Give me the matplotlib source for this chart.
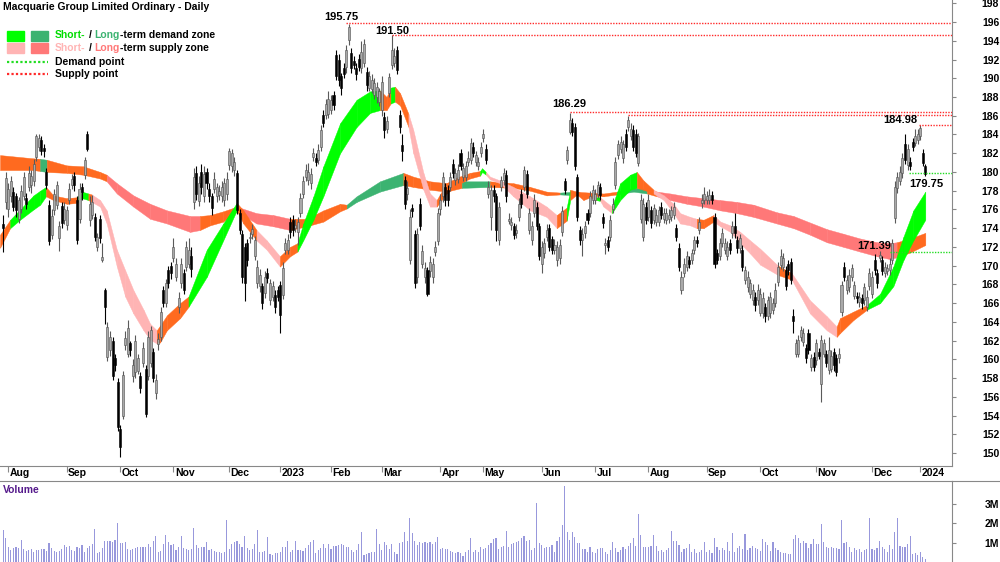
import numpy as np
import pandas as pd
import matplotlib
matplotlib.use('Agg')
import matplotlib.pyplot as plt
from matplotlib.lines import Line2D
from matplotlib.patches import Rectangle

plt.rcParams['font.family'] = ['Liberation Sans', 'DejaVu Sans']

# ASX trading calendar
holidays = ['2022-09-22', '2022-12-26', '2022-12-27', '2023-01-02', '2023-01-26',
            '2023-04-07', '2023-04-10', '2023-04-25', '2023-06-12', '2023-12-25',
            '2023-12-26', '2024-01-01']
dates = pd.bdate_range('2022-07-28', '2024-01-04')
dates = dates[~dates.isin(pd.to_datetime(holidays))]

# daily prices
opens = [
    174.4, 176.8, 176.0, 177.4, 177.9, 177.4, 175.0, 176.0, 177.4, 177.2,
    178.4, 178.6, 179.0, 181.6, 182.7, 183.4, 182.6, 180.0, 176.5, 173.3,
    175.9, 176.5, 172.9, 176.4, 174.9, 174.3, 177.0, 178.6, 179.6, 177.0,
    175.0, 178.4, 179.7, 184.0, 174.9, 175.4, 175.2, 172.0, 175.0, 170.6,
    167.4, 160.3, 161.0, 162.0, 160.1, 157.6, 152.6, 154.0, 161.5, 160.6,
    161.7, 158.2, 158.6, 158.8, 158.2, 159.6, 159.0, 158.2, 159.6, 160.8,
    156.4, 161.6, 162.4, 167.4, 166.0, 169.5, 170.0, 170.8, 168.8, 165.6,
    168.1, 169.2, 169.9, 170.2, 171.0, 176.8, 179.9, 176.9, 180.0, 177.4,
    180.0, 178.2, 177.4, 178.2, 177.4, 177.5, 177.4, 177.0, 177.6, 180.7,
    180.6, 180.2, 179.9, 175.6, 173.4, 172.0, 172.4, 172.9, 173.4, 171.0,
    168.1, 167.8, 167.8, 167.1, 169.2, 166.3, 166.7, 166.9, 167.4, 167.9,
    166.9, 171.7, 171.7, 174.7, 174.9, 174.0, 173.6, 175.6, 177.7, 179.5,
    179.1, 178.8, 181.6, 181.5, 181.3, 182.7, 186.1, 186.1, 186.2, 186.6,
    188.2, 192.5, 192.0, 190.2, 191.1, 191.2, 194.1, 192.7, 191.8, 191.1,
    192.1, 191.1, 191.6, 190.7, 189.0, 188.9, 188.2, 188.0, 187.5, 186.6,
    185.9, 184.6, 188.4, 191.4, 191.6, 193.0, 186.1, 182.9, 179.1, 177.6,
    170.6, 176.1, 173.4, 168.8, 176.6, 170.2, 168.8, 169.5, 169.4, 168.8,
    171.5, 172.6, 176.0, 177.4, 178.4, 178.1, 178.4, 180.9, 179.1, 179.3,
    182.0, 179.5, 179.5, 181.1, 181.3, 182.7, 181.1, 180.6, 182.0, 183.6,
    182.5, 177.7, 175.2, 178.1, 177.4, 172.7, 178.4, 179.1, 179.7, 174.8,
    174.3, 174.2, 173.5, 175.2, 177.7, 178.4, 179.8, 173.8, 172.7, 175.6,
    176.3, 174.2, 170.2, 171.3, 173.1, 174.0, 172.8, 171.7, 170.6, 170.8,
    173.6, 179.0, 181.3, 184.3, 185.2, 184.8, 179.5, 173.8, 172.7, 173.5,
    175.6, 175.6, 177.0, 177.0, 177.7, 178.4, 175.2, 172.2, 172.7, 173.1,
    176.0, 178.6, 181.8, 182.4, 181.5, 184.1, 184.8, 183.8, 184.5, 184.1,
    181.0, 175.0, 173.1, 176.3, 175.2, 175.9, 174.9, 174.7, 174.7, 176.3,
    175.0, 174.9, 175.0, 175.2, 175.4, 174.0, 171.9, 167.4, 169.2, 169.9,
    170.6, 170.6, 171.7, 172.7, 173.8, 176.7, 177.0, 177.0, 177.0, 177.5,
    175.2, 171.3, 171.0, 172.4, 171.7, 171.0, 172.4, 173.5, 174.2, 172.7,
    171.9, 171.7, 168.5, 167.7, 167.0, 166.3, 166.7, 166.3, 165.0, 165.0,
    165.6, 164.6, 164.9, 165.3, 166.0, 168.3, 170.1, 169.9, 169.5, 170.2,
    170.4, 164.6, 160.6, 160.6, 162.4, 161.9, 161.2, 162.8, 159.2, 160.3,
    159.9, 160.8, 157.4, 160.6, 160.6, 158.9, 159.0, 160.8, 160.1, 160.1,
    165.1, 169.9, 167.4, 167.7, 168.8, 166.8, 166.8, 166.1, 166.5, 166.3,
    165.6, 167.8, 167.0, 170.6, 169.2, 170.8, 170.6, 169.2, 169.4, 169.5,
    170.6, 175.1, 178.3, 179.0, 179.9, 183.0, 180.7, 181.1, 183.2, 183.1,
    183.4, 183.8, 182.0, 180.6]
highs = [
    175.4, 180.0, 178.8, 179.6, 178.4, 177.8, 177.3, 178.6, 180.0, 177.8,
    180.6, 180.2, 181.4, 184.0, 184.0, 183.8, 183.0, 180.4, 177.0, 176.0,
    178.2, 179.0, 174.8, 176.8, 176.8, 176.4, 178.8, 179.8, 180.0, 177.4,
    178.8, 178.8, 181.6, 184.4, 177.4, 177.5, 175.6, 173.5, 175.4, 172.4,
    167.6, 164.0, 163.0, 162.4, 160.6, 158.0, 153.0, 158.8, 163.0, 164.2,
    162.0, 160.0, 162.6, 160.6, 158.6, 161.8, 159.4, 163.0, 163.6, 161.2,
    158.4, 162.8, 165.6, 167.8, 168.6, 170.0, 170.4, 173.0, 170.8, 167.2,
    170.8, 169.6, 172.6, 173.0, 172.0, 180.4, 180.6, 179.6, 180.8, 180.6,
    180.4, 178.8, 177.8, 180.0, 178.8, 178.6, 179.0, 179.4, 180.0, 182.6,
    182.4, 181.6, 180.2, 176.0, 173.8, 172.4, 172.8, 173.6, 174.4, 173.2,
    170.6, 169.6, 168.2, 169.4, 169.8, 168.6, 168.4, 167.4, 167.8, 168.4,
    170.4, 173.0, 173.4, 175.2, 175.4, 175.0, 175.2, 177.8, 179.6, 180.8,
    181.0, 180.4, 182.6, 182.0, 183.0, 185.0, 186.6, 187.8, 188.6, 188.2,
    188.6, 193.0, 192.6, 190.6, 191.6, 193.6, 195.75, 193.2, 192.4, 191.6,
    192.6, 194.0, 194.2, 191.2, 190.8, 190.4, 190.0, 189.6, 189.0, 190.2,
    186.4, 186.0, 190.6, 194.6, 193.2, 193.4, 186.6, 184.0, 179.6, 179.0,
    176.0, 176.6, 173.8, 174.0, 177.2, 172.2, 170.4, 169.9, 171.0, 170.8,
    172.6, 176.2, 177.6, 180.0, 178.8, 178.6, 180.0, 181.4, 180.4, 180.8,
    182.4, 181.0, 181.2, 182.2, 183.6, 183.2, 182.2, 181.6, 183.2, 184.6,
    183.0, 179.0, 178.6, 178.6, 177.8, 176.8, 179.6, 180.4, 180.2, 175.6,
    175.2, 174.6, 174.4, 177.2, 178.2, 180.6, 180.2, 176.2, 174.8, 177.6,
    176.8, 174.6, 172.6, 173.0, 174.4, 174.4, 173.2, 172.8, 172.6, 172.8,
    176.4, 179.4, 182.8, 186.29, 185.8, 185.2, 179.8, 174.2, 174.0, 174.8,
    176.0, 178.0, 178.6, 178.2, 179.0, 178.8, 175.6, 173.0, 173.2, 175.4,
    177.2, 181.6, 183.4, 183.8, 183.4, 184.6, 186.0, 185.2, 185.0, 184.6,
    184.2, 177.6, 177.2, 176.8, 177.6, 176.4, 176.6, 176.0, 176.4, 176.8,
    176.2, 176.2, 176.0, 176.4, 176.8, 174.4, 172.4, 169.4, 170.8, 171.6,
    171.0, 171.8, 173.2, 173.2, 175.2, 177.6, 178.4, 178.0, 178.2, 178.0,
    175.6, 171.8, 173.0, 174.0, 173.0, 172.6, 172.8, 174.8, 175.6, 173.2,
    173.4, 172.2, 170.0, 169.4, 168.6, 168.0, 167.2, 168.0, 167.6, 167.2,
    166.0, 166.8, 167.2, 166.6, 168.2, 170.4, 171.8, 171.4, 170.0, 170.6,
    170.8, 165.4, 162.2, 162.6, 163.6, 163.4, 161.6, 163.2, 160.6, 160.8,
    162.2, 161.2, 162.6, 162.2, 161.0, 162.4, 161.0, 161.2, 160.6, 161.2,
    168.4, 170.4, 169.0, 169.6, 170.2, 168.4, 167.2, 167.2, 167.0, 168.2,
    167.4, 169.8, 169.4, 171.2, 169.6, 171.6, 171.0, 170.4, 170.2, 170.8,
    172.8, 179.0, 180.0, 180.6, 182.0, 184.0, 183.0, 181.6, 183.6, 184.6,
    184.6, 184.98, 182.4, 180.9]
lows = [
    171.5, 176.0, 175.2, 176.8, 175.8, 175.2, 174.6, 175.6, 177.0, 176.0,
    178.0, 177.8, 178.5, 181.2, 182.2, 181.8, 181.6, 178.2, 172.2, 172.8,
    175.4, 176.0, 171.6, 174.0, 174.4, 173.8, 176.6, 178.2, 178.0, 172.3,
    174.6, 177.0, 179.2, 182.2, 174.2, 175.0, 172.6, 171.6, 172.4, 170.4,
    163.8, 159.8, 160.4, 157.8, 158.8, 152.4, 149.6, 153.6, 161.0, 160.2,
    160.4, 157.6, 158.0, 158.4, 156.4, 159.2, 153.8, 157.8, 159.2, 157.6,
    155.8, 161.0, 162.0, 165.6, 165.6, 167.6, 168.6, 170.4, 168.4, 165.0,
    167.6, 167.0, 169.4, 169.8, 168.8, 176.0, 177.0, 176.4, 177.6, 176.8,
    178.2, 176.8, 175.4, 177.8, 176.8, 177.0, 176.8, 176.4, 177.0, 180.2,
    180.0, 179.6, 175.5, 173.4, 168.2, 166.2, 170.0, 172.4, 172.8, 170.6,
    167.6, 167.2, 165.4, 166.6, 168.2, 165.8, 166.2, 165.0, 166.2, 162.8,
    166.4, 171.2, 171.2, 173.0, 173.2, 173.6, 172.2, 175.2, 177.2, 179.0,
    178.6, 178.2, 181.2, 180.6, 180.8, 182.2, 184.8, 185.6, 185.8, 186.2,
    186.6, 189.8, 189.2, 188.2, 190.0, 190.6, 193.6, 190.6, 191.0, 189.8,
    190.8, 190.6, 191.2, 188.6, 188.6, 188.4, 187.8, 187.4, 187.0, 186.0,
    183.6, 184.2, 188.0, 191.0, 191.2, 190.4, 184.2, 181.2, 176.0, 177.0,
    170.2, 175.2, 167.6, 168.2, 173.8, 169.8, 168.2, 166.8, 168.8, 168.2,
    171.0, 172.2, 175.4, 176.8, 176.4, 176.4, 178.0, 179.4, 178.6, 178.8,
    180.2, 179.0, 179.0, 180.6, 180.8, 181.6, 180.6, 180.2, 181.6, 183.2,
    180.8, 177.2, 173.8, 176.8, 172.6, 172.2, 178.0, 178.6, 176.8, 174.4,
    173.8, 172.8, 173.0, 174.8, 176.2, 178.0, 177.2, 173.4, 172.2, 175.2,
    173.8, 170.6, 169.2, 170.8, 172.6, 171.6, 171.2, 171.2, 170.0, 170.2,
    173.2, 177.6, 180.8, 184.0, 183.8, 180.2, 174.8, 172.2, 171.0, 173.0,
    174.4, 175.2, 176.6, 176.6, 177.2, 177.0, 174.0, 171.2, 171.6, 172.6,
    175.6, 178.2, 181.4, 182.0, 181.0, 182.2, 184.4, 183.4, 182.2, 181.6,
    180.6, 174.6, 172.6, 174.4, 174.8, 174.0, 174.4, 174.2, 174.2, 175.0,
    174.6, 174.4, 174.6, 174.8, 175.0, 172.6, 169.4, 167.0, 168.8, 169.4,
    169.8, 170.2, 171.2, 172.0, 173.4, 176.2, 176.6, 176.6, 176.6, 176.6,
    169.8, 170.2, 170.6, 172.0, 171.2, 170.6, 171.2, 173.0, 173.0, 171.4,
    171.4, 169.4, 168.0, 167.2, 166.6, 165.8, 165.2, 165.8, 164.6, 164.4,
    164.0, 164.2, 164.4, 164.8, 165.6, 167.8, 169.6, 169.4, 167.4, 169.0,
    168.0, 162.8, 160.2, 160.2, 162.0, 161.4, 159.6, 160.6, 158.8, 158.8,
    159.4, 160.0, 155.5, 160.2, 159.2, 158.4, 158.6, 158.8, 158.2, 159.6,
    164.6, 168.4, 167.0, 167.2, 168.4, 166.4, 166.0, 165.6, 165.4, 165.8,
    165.2, 167.4, 166.6, 169.0, 167.6, 170.4, 169.0, 168.8, 169.0, 169.0,
    170.2, 174.6, 177.8, 178.6, 179.4, 180.8, 180.2, 180.2, 182.2, 182.8,
    183.0, 183.4, 180.6, 179.6]
closes = [
    174.0, 179.4, 178.2, 179.0, 176.3, 175.9, 177.0, 178.0, 179.5, 176.6,
    179.9, 179.6, 180.9, 183.8, 183.6, 182.2, 182.2, 178.6, 172.6, 175.3,
    177.7, 178.6, 174.2, 174.6, 176.0, 175.9, 178.2, 179.3, 178.6, 172.7,
    178.2, 177.9, 181.3, 182.5, 176.6, 176.8, 173.1, 173.1, 172.9, 170.9,
    165.6, 163.5, 162.4, 158.2, 159.4, 152.8, 150.7, 158.3, 162.3, 163.3,
    161.0, 159.4, 162.0, 160.1, 156.9, 161.2, 154.2, 162.4, 163.1, 158.0,
    157.8, 162.2, 165.1, 166.0, 168.1, 168.1, 169.2, 172.0, 170.2, 166.5,
    170.2, 167.4, 172.0, 171.7, 169.6, 179.5, 177.7, 178.8, 178.4, 179.8,
    178.8, 177.4, 176.1, 179.3, 178.4, 178.0, 178.4, 178.8, 179.2, 182.2,
    182.0, 181.1, 175.9, 173.8, 168.8, 168.1, 170.6, 173.1, 173.9, 172.7,
    169.9, 169.0, 166.0, 168.8, 168.7, 168.1, 167.8, 165.6, 166.7, 164.7,
    169.7, 172.4, 172.7, 173.6, 173.8, 174.3, 174.7, 177.2, 179.0, 180.2,
    180.0, 179.8, 182.0, 181.1, 182.3, 184.5, 185.2, 187.3, 187.8, 187.7,
    187.1, 190.2, 189.8, 189.0, 190.5, 193.0, 195.5, 191.1, 191.4, 190.4,
    191.2, 192.8, 193.7, 189.3, 190.2, 189.8, 189.5, 189.1, 188.6, 189.6,
    184.5, 185.4, 190.1, 193.0, 192.4, 190.9, 184.8, 182.2, 176.6, 178.3,
    175.2, 175.8, 168.1, 173.4, 174.2, 171.6, 169.7, 167.0, 170.4, 170.2,
    172.0, 175.6, 177.0, 179.5, 177.0, 177.0, 179.5, 179.9, 179.9, 180.2,
    180.6, 180.4, 180.6, 181.5, 183.1, 182.0, 181.8, 181.1, 182.7, 184.0,
    181.3, 178.4, 178.1, 177.4, 173.8, 176.3, 179.1, 179.9, 177.4, 175.0,
    174.7, 173.3, 173.8, 176.6, 176.6, 180.2, 177.7, 175.6, 174.2, 177.0,
    174.2, 171.0, 172.0, 172.4, 173.8, 172.0, 171.7, 172.2, 172.0, 172.2,
    175.8, 178.1, 182.3, 185.5, 184.3, 180.6, 175.2, 172.7, 173.4, 174.2,
    174.9, 177.4, 178.1, 177.7, 178.6, 177.5, 174.5, 172.4, 172.0, 174.9,
    176.6, 181.1, 183.0, 183.2, 183.0, 182.7, 185.5, 184.6, 182.7, 182.0,
    183.8, 177.0, 176.6, 174.9, 177.0, 174.5, 176.1, 175.4, 175.9, 175.4,
    175.6, 175.6, 175.4, 175.9, 176.3, 173.1, 169.9, 168.8, 170.2, 171.0,
    170.2, 171.3, 172.7, 172.4, 174.7, 177.0, 177.7, 177.4, 177.5, 177.0,
    170.2, 170.6, 172.4, 173.5, 172.4, 172.0, 171.7, 174.2, 173.5, 171.9,
    172.9, 169.9, 169.5, 168.8, 168.1, 167.4, 165.8, 167.4, 167.0, 166.6,
    164.6, 166.3, 166.7, 166.0, 167.4, 169.9, 171.0, 170.8, 167.8, 169.5,
    168.5, 164.1, 161.7, 162.1, 163.1, 162.8, 160.1, 161.0, 160.1, 159.2,
    161.7, 160.4, 162.1, 161.7, 159.6, 161.0, 160.4, 159.4, 158.7, 160.6,
    167.9, 168.8, 168.5, 169.0, 169.7, 167.9, 166.5, 166.7, 166.0, 167.7,
    166.7, 169.2, 168.8, 169.5, 168.1, 171.1, 169.4, 169.9, 169.7, 170.2,
    172.4, 178.4, 179.5, 180.0, 181.5, 181.3, 182.5, 180.6, 182.7, 183.8,
    184.1, 184.7, 181.0, 179.75]
volume_m = [
    1.66, 1.26, 0.79, 0.62, 0.71, 0.79, 0.74, 1.14, 0.66, 0.55,
    0.62, 0.67, 0.53, 0.64, 0.62, 0.66, 0.66, 0.57, 1.00, 0.71,
    0.55, 0.53, 0.57, 0.66, 0.88, 0.79, 0.83, 0.62, 0.57, 0.79,
    0.72, 0.88, 0.53, 0.74, 0.84, 0.91, 1.71, 0.48, 0.53, 0.74,
    1.10, 1.09, 1.09, 1.02, 1.14, 2.00, 0.97, 1.00, 1.02, 0.67,
    0.62, 0.66, 0.74, 0.79, 0.76, 0.78, 0.79, 0.91, 0.79, 1.09,
    1.34, 0.50, 0.55, 0.91, 1.40, 1.02, 0.88, 0.91, 0.62, 0.79,
    1.34, 0.74, 0.67, 0.64, 0.66, 1.78, 0.88, 0.71, 0.76, 0.79,
    1.05, 0.62, 0.67, 0.55, 0.52, 0.50, 0.48, 0.53, 2.17, 0.67,
    0.91, 1.02, 1.09, 0.91, 0.79, 1.36, 0.71, 0.62, 0.66, 0.91,
    1.64, 0.50, 0.53, 0.55, 1.29, 0.40, 0.36, 0.45, 0.48, 0.50,
    0.76, 0.79, 1.09, 0.53, 0.62, 1.09, 0.62, 0.60, 0.55, 0.74,
    0.88, 1.02, 1.14, 0.48, 0.62, 0.74, 0.91, 0.74, 0.95, 0.67,
    0.84, 0.84, 0.90, 0.91, 0.88, 0.79, 0.79, 0.62, 0.50, 0.62,
    0.91, 1.53, 0.36, 0.40, 0.45, 0.50, 0.50, 1.71, 0.91, 0.62,
    1.02, 0.88, 0.67, 0.91, 0.50, 0.40, 0.97, 1.05, 1.53, 1.09,
    2.26, 1.48, 1.09, 0.88, 1.02, 0.97, 1.02, 0.97, 1.05, 0.91,
    1.02, 1.29, 0.67, 0.74, 0.67, 0.66, 0.57, 0.53, 0.45, 0.53,
    0.45, 0.33, 0.53, 0.64, 1.22, 0.50, 0.62, 0.53, 0.78, 0.66,
    0.74, 0.88, 1.00, 1.19, 1.22,
    0.67, 0.79, 0.84, 1.60, 0.78, 0.91, 0.97, 1.02, 1.09, 1.22,
    1.34, 1.09, 1.12, 0.62, 0.74, 3.03, 0.97, 0.88, 0.71, 0.79,
    0.79, 0.88, 0.53, 1.09, 1.31, 1.91, 3.93, 1.57, 1.14, 1.57,
    1.31, 0.97, 0.97, 0.67, 0.67, 0.53, 0.78, 0.50, 0.45, 0.67,
    0.71, 0.71, 0.53, 0.40, 0.62, 1.02, 0.71, 0.53, 0.60, 0.79,
    0.66, 0.84, 1.00, 1.22, 0.84, 2.48, 1.40, 0.78, 0.79, 0.78,
    0.84, 1.40, 0.84, 0.57, 0.62, 0.53, 0.62, 0.71, 1.59, 1.09,
    1.09, 0.88, 0.53, 0.67, 0.71, 0.91, 0.53, 0.67, 0.45, 0.53,
    0.64, 1.02, 0.50, 0.62, 0.45, 1.22, 0.79, 0.62, 0.71, 0.62,
    1.02, 0.57, 1.52, 0.53, 0.71, 0.84, 0.67, 1.45, 0.62, 0.71,
    0.84, 0.74, 0.67, 0.57, 1.19, 1.02, 0.88, 0.57, 1.02, 0.74,
    0.62, 0.50, 0.48, 0.45, 0.41, 0.43, 1.19, 1.40, 1.22, 0.97,
    1.09, 0.97, 0.74, 0.91, 1.19, 0.91, 0.91, 1.97, 1.02, 0.79,
    0.74, 0.76, 0.71, 0.74, 0.66, 2.19, 0.97, 1.02, 0.79, 0.53,
    0.71, 0.62, 0.66, 0.50, 0.62, 0.67, 2.26, 0.66, 0.62, 0.71,
    1.09, 0.79, 0.66, 0.53, 0.88, 0.66, 1.57, 2.29, 0.84,
    0.79, 0.79, 0.91, 1.34, 0.40, 0.45, 0.34, 0.50, 0.26, 0.16]

# zone colours
SG, LG, SP, LP, OR = '#00ff00', '#3cb371', '#ffb4b4', '#ff7878', '#ff6a1f'

# short-term zone (bar index, lower edge, upper edge, colour of following segment)
short_idx = [-1.3, 2.7, 6.6, 11.9, 14.5, 16.8, 19.7, 25, 29, 31, 33.5, 34.8, 38.1, 40.7,
             44.7, 48, 51.2, 55.2, 57.8, 60.4, 61.7, 64.4, 69.6, 72.9, 80.1, 86.6, 91.9,
             94.5, 99.7, 103.7, 108.9, 112.9, 115.8, 118.1, 122.1, 126, 132.6, 139.1,
             144.4, 148.3, 150.9, 152.5, 154.2, 156.2, 159.5, 161.4, 165.4, 168, 170.6,
             174.5, 178.5, 183.7, 187.7, 188.5, 190, 191.6, 195.5, 200.8, 207.4, 213.9,
             217.9, 221.8, 223.2, 225.8, 228.4, 231, 233.5, 235, 236.3, 239.6, 242.9,
             246.8, 249.4, 252, 256, 260, 263.9, 266.5, 270.4, 273, 275.7, 279.6, 282.3,
             286.2, 290.1, 294, 298, 305, 310.4, 317.6, 324.2, 328.1, 329.4, 334.7, 340,
             345.2, 350.4, 354.4, 358.3, 363]
short_lo = [171.9, 174.0, 174.9, 176.0, 176.5, 177.4, 177.0, 176.6, 176.7, 177.2, 177.0,
            176.8, 176.3, 174.5, 169.9, 166.7, 164.9, 163.1, 162.1, 161.7, 161.8, 163.1,
            164.4, 165.6, 168.8, 172.7, 175.9, 174.5, 172.7, 171.7, 169.9, 171.0, 171.5,
            172.7, 174.9, 177.4, 182.0, 184.8, 186.3, 186.6, 186.6, 187.3, 187.5, 187.1,
            184.8, 182.0, 178.1, 176.3, 176.3, 177.7, 178.6, 179.3, 179.6, 180.0, 179.7,
            179.2, 178.8, 177.4, 175.9, 175.2, 174.0, 174.8, 177.0, 177.6, 177.0, 177.3,
            177.0, 176.9, 176.3, 175.6, 177.0, 178.1, 178.3, 178.1, 177.7, 177.0, 175.6,
            174.5, 174.3, 174.0, 174.0, 174.7, 174.2, 173.6, 172.4, 171.3, 170.1, 169.0,
            168.5, 164.9, 163.1, 162.4, 162.8, 164.2, 165.3, 166.0, 167.8, 170.6, 172.7,
            174.9]
short_hi = [173.3, 174.9, 176.0, 177.5, 178.0, 178.4, 177.5, 177.2, 177.3, 177.9, 177.7,
            177.6, 177.0, 175.9, 171.7, 169.5, 167.4, 165.3, 163.8, 163.1, 163.6, 164.7,
            166.0, 166.7, 171.7, 174.5, 176.7, 175.9, 173.8, 172.7, 171.0, 172.0, 172.4,
            174.5, 177.4, 180.6, 185.2, 187.7, 188.6, 188.7, 188.0, 189.0, 189.1, 188.4,
            186.2, 184.5, 179.9, 177.7, 177.0, 178.8, 179.4, 179.9, 180.1, 180.4, 180.0,
            179.5, 179.1, 178.4, 177.4, 176.3, 175.4, 176.2, 178.1, 177.9, 177.7, 177.6,
            177.3, 177.3, 177.0, 176.3, 178.8, 179.7, 180.0, 179.1, 178.1, 177.5, 176.6,
            175.6, 175.2, 175.0, 174.9, 175.4, 174.7, 174.3, 173.6, 172.7, 171.8, 170.0,
            169.2, 166.3, 164.6, 163.5, 164.4, 165.1, 165.8, 167.0, 169.9, 173.1, 175.9,
            177.9]
short_col = [OR, SG, SG, SG, SG, OR, OR, OR, SG, SG, OR, SP, SP, SP, SP, SP, SP, SP, SP,
             OR, OR, OR, OR, SG, SG, SG, OR, OR, SP, SP, OR, OR, SG, SG, SG, SG, SG, SG,
             SG, OR, OR, SG, OR, OR, SP, SP, SP, SP, OR, OR, OR, OR, SG, SG, SP, SP, SP,
             SP, SP, SP, OR, SG, OR, OR, OR, OR, SG, SP, SP, SG, SG, SG, OR, OR, SP, SP,
             SP, SP, SP, OR, OR, SP, SP, SP, SP, SP, SP, OR, SP, SP, SP, OR, OR, OR, SG,
             SG, SG, SG, SG, SG]

# long-term zone
long_idx = [-1.3, 11.9, 14.5, 17.1, 25, 31.5, 38.1, 40.7, 44.7, 51.2, 57.8, 64.4, 73.5,
            77.4, 81.4, 86.6, 91.9, 99.7, 106.3, 112.9, 119.4, 126, 132.6, 135.2, 139.1,
            148.3, 157.5, 161.4, 168, 174.5, 180.5, 191.6, 200.8, 207.4, 213.9, 219.2,
            225, 236.3, 241.6, 248.1, 253.4, 257.3, 262.6, 269.1, 275.7, 282.3, 288.8,
            295.4, 304.5, 311.1, 317.6, 324.2, 330.8, 337.3, 344, 349.1, 351.8, 357, 363]
long_lo = [180.2, 180.2, 180.1, 180.0, 179.9, 179.7, 179.3, 179.0, 177.7, 176.3, 175.0,
           174.5, 173.6, 173.8, 174.3, 174.7, 175.8, 174.5, 174.2, 173.8, 174.2, 174.7,
           175.8, 176.1, 176.8, 177.9, 178.6, 178.4, 178.1, 177.9, 178.3, 178.4, 178.3,
           178.0, 177.5, 177.6, 177.5, 177.4, 177.6, 177.9, 177.7, 177.4, 177.0, 176.6,
           176.3, 175.9, 175.6, 175.2, 174.5, 174.0, 173.3, 172.5, 172.0, 171.5, 171.0,
           170.7, 170.9, 171.4, 172.2]
long_hi = [181.8, 181.45, 181.4, 181.3, 180.7, 180.6, 180.0, 179.7, 178.8, 177.5, 176.6,
           175.9, 175.3, 175.3, 175.4, 175.8, 176.3, 175.6, 175.4, 175.0, 175.0, 175.9,
           176.6, 176.5, 177.4, 179.0, 179.9, 179.5, 179.0, 178.8, 179.0, 179.0, 178.8,
           178.4, 177.9, 177.8, 177.9, 177.7, 177.9, 178.3, 178.2, 177.9, 177.7, 177.4,
           177.2, 177.0, 176.8, 176.5, 175.7, 175.3, 174.6, 173.9, 173.4, 172.9, 172.5,
           172.4, 172.5, 172.9, 173.5]
long_col = [OR, OR, LG, OR, OR, OR, OR, LP, LP, LP, LP, LP, LP, OR, OR, OR, LP, LP, LP,
            OR, OR, OR, OR, LG, LG, LG, OR, OR, OR, OR, LG, OR, OR, OR, OR, LG, OR, OR,
            LG, LG, OR, LP, LP, LP, LP, LP, LP, LP, LP, LP, LP, LP, LP, LP, LP, LP, OR,
            OR, OR]

# supply / demand points: (start bar, price)
supply_start = [135, 153, 223, 246, 360.5]
supply_price = [195.86, 194.6, 186.35, 186.08, 185.05]
demand_start = [356.5, 349]
demand_price = [179.85, 171.48]
point_labels = ['195.75', '191.50', '186.29', '184.98', '179.75', '171.39']

# ---------------- figure ----------------
W, H = 1000, 562
fig = plt.figure(figsize=(W / 100, H / 100), dpi=100)
ax = fig.add_axes([0, (H - 466) / H, 0.952, 466 / H])
axv = fig.add_axes([0, 0, 0.952, 81 / H])

n = min(len(opens), len(highs), len(lows), len(closes), len(dates))
x = np.arange(n)
o = np.array(opens[:n]); hi = np.array(highs[:n]); lo = np.array(lows[:n]); c = np.array(closes[:n])

xmin, xmax = -1.3, 373.5
ax.set_xlim(xmin, xmax)
axv.set_xlim(xmin, xmax)
ax.set_ylim(148.62, 198.35)

# zones
def draw_zone(idx, low, high, cols, z):
    for k in range(len(idx) - 1):
        ax.fill_between([idx[k], idx[k + 1]], [low[k], low[k + 1]], [high[k], high[k + 1]],
                        color=cols[k], lw=0.3, edgecolor=cols[k], zorder=z)

draw_zone(long_idx, long_lo, long_hi, long_col, 1)
draw_zone(short_idx, short_lo, short_hi, short_col, 2)

# candles
up = c >= o
ax.vlines(x[up], lo[up], hi[up], color='#5a5a5a', lw=0.8, zorder=3)
ax.vlines(x[~up], lo[~up], hi[~up], color='black', lw=0.8, zorder=3)
body_lo = np.minimum(o, c)
body_h = np.maximum(np.abs(c - o), 0.15)
ax.bar(x[up], body_h[up], bottom=body_lo[up], width=0.8, color='#a9a9a9',
       edgecolor='#505050', lw=0.4, zorder=4)
ax.bar(x[~up], body_h[~up], bottom=body_lo[~up], width=0.8, color='black',
       edgecolor='black', lw=0.4, zorder=4)

# supply / demand lines
for s, p in zip(supply_start, supply_price):
    ax.hlines(p, s, xmax, colors='#ff2a2a', linestyles=(0, (1, 1)), lw=1.0, zorder=5)
for s, p in zip(demand_start, demand_price):
    ax.hlines(p, s, xmax, colors='#22dd22', linestyles=(0, (1, 1)), lw=1.0, zorder=5)

lab_kw = dict(fontsize=8, fontweight='bold', ha='center', va='center', zorder=6)
ax.text(133, 196.55, point_labels[0], **lab_kw)
ax.text(153, 195.05, point_labels[1], **lab_kw)
ax.text(222.8, 187.25, point_labels[2], **lab_kw)
ax.text(353, 185.55, point_labels[3], **lab_kw)
ax.text(363.3, 178.7, point_labels[4], **lab_kw)
ax.text(342.9, 172.1, point_labels[5], **lab_kw)

# price axis on the right
ax.yaxis.tick_right()
yt = list(range(150, 199, 2))
ax.set_yticks(yt)
ax.set_yticklabels([str(v) for v in yt], fontsize=7.5, fontweight='bold')
ax.tick_params(axis='y', length=3, color='#888888', pad=31)
for t in ax.get_yticklabels():
    t.set_ha('right')

# month ticks
month_pos, month_lab = [], []
for i in range(1, n):
    if dates[i].month != dates[i - 1].month:
        month_pos.append(i)
        month_lab.append(str(dates[i].year) if dates[i].month == 1 else dates[i].strftime('%b'))
ax.set_xticks(month_pos)
ax.set_xticklabels([])
ax.tick_params(axis='x', direction='out', length=4, color='#888888')
for p, t in zip(month_pos, month_lab):
    ax.text(p + 0.5, -7.5 / 466, t, transform=ax.get_xaxis_transform(), fontsize=7.5,
            fontweight='bold', ha='left', va='center')

for side in ['top', 'left']:
    ax.spines[side].set_visible(False)
ax.spines['right'].set_color('#888888')
ax.spines['bottom'].set_color('#888888')

# volume
axv.bar(x, np.array(volume_m[:n]), width=0.45, color='#9898dc', zorder=2)
axv.set_ylim(0, 81 / 19.33)
axv.yaxis.tick_right()
axv.set_yticks([1, 2, 3])
axv.set_yticklabels(['1M', '2M', '3M'], fontsize=7.5, fontweight='bold')
axv.tick_params(axis='y', length=3, color='#888888', pad=31)
for t in axv.get_yticklabels():
    t.set_ha('right')
axv.set_xticks([])
for side in ['bottom', 'left']:
    axv.spines[side].set_visible(False)
axv.spines['right'].set_color('#888888')
axv.spines['top'].set_color('#888888')
axv.text(0.003, 1 - 9 / 81, 'Volume', transform=axv.transAxes, fontsize=7.5,
         fontweight='bold', color='#551a8b', va='center', ha='left')
fig.add_artist(Line2D([0.952, 1.0], [1 - 481 / H, 1 - 481 / H], color='#888888', lw=0.8))

# title and legend
def fx(px):
    return px / W

def fy(py):
    return 1 - py / H

fig.text(fx(3), fy(7), 'Macquarie Group Limited Ordinary - Daily', fontsize=7.5,
         fontweight='bold', ha='left', va='center')
for (x0, y0, col) in [(7, 31, SG), (31, 31, LG), (7, 43, SP), (31, 43, LP)]:
    fig.add_artist(Rectangle((fx(x0), fy(y0 + 10)), 17 / W, 10 / H, color=col,
                             transform=fig.transFigure))
fig.add_artist(Line2D([fx(7), fx(48)], [fy(62), fy(62)], color='#22dd22', lw=1.6,
                      linestyle=(0, (1, 1))))
fig.add_artist(Line2D([fx(7), fx(48)], [fy(74), fy(74)], color='#ff2a2a', lw=1.6,
                      linestyle=(0, (1, 1))))

renderer = fig.canvas.get_renderer()

def rich(x_px, y_px, parts):
    xp = x_px
    for s, col, gap in parts:
        xp += gap
        t = fig.text(fx(xp), fy(y_px), s, color=col, fontsize=7.5, fontweight='bold',
                     ha='left', va='center')
        xp += t.get_window_extent(renderer=renderer).width

rich(55, 35, [('Short-', '#00dd00', 0), ('/', 'black', 3), ('Long', LG, 3),
              ('-term demand zone', 'black', 0)])
rich(55, 48, [('Short-', SP, 0), ('/', 'black', 3), ('Long', LP, 3),
              ('-term supply zone', 'black', 0)])
fig.text(fx(55), fy(62), 'Demand point', fontsize=7.5, fontweight='bold', ha='left', va='center')
fig.text(fx(55), fy(74), 'Supply point', fontsize=7.5, fontweight='bold', ha='left', va='center')

fig.savefig('out.png', dpi=100)
